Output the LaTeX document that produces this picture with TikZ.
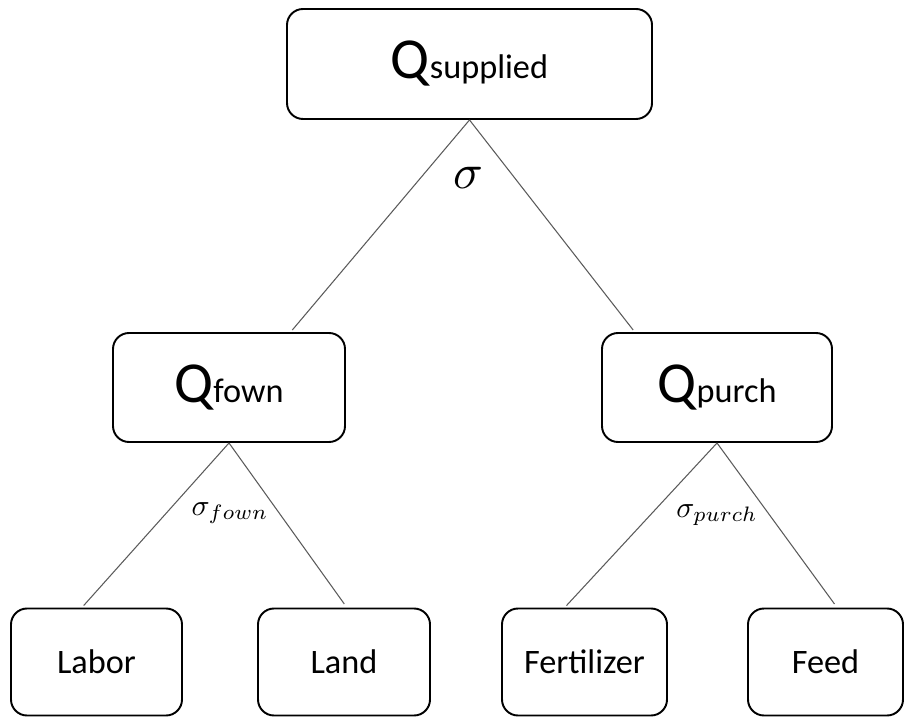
\documentclass[tikz,border=0pt]{standalone}
\usepackage{fontspec}
\setmainfont{Carlito}
\newcommand{\bigQ}{{\fontsize{33}{36}\selectfont Q}}
\definecolor{lineGray}{RGB}{90,90,90}

\begin{document}
\begin{tikzpicture}[%
    box/.style={
        draw,
        line width=1.1pt,
        rounded corners=0.32cm,
        font=\fontsize{19.5}{22}\selectfont,
    },
    branch/.style={lineGray, line width=0.6pt, shorten >=1.5pt},
]
\useasboundingbox (0,0) rectangle (18.1,14.34);

% place boxes
\node[box, minimum width=7.3cm, minimum height=2.2cm] (supplied) at (9.39,13.06) {\bigQ supplied};
\node[box, minimum width=4.64cm, minimum height=2.18cm] (fown) at (4.58,6.59) {\bigQ fown};
\node[box, minimum width=4.6cm, minimum height=2.18cm] (purch) at (14.34,6.59) {\bigQ purch};
\node[box, minimum width=3.42cm, minimum height=2.14cm] (labor) at (1.93,1.1) {Labor};
\node[box, minimum width=3.44cm, minimum height=2.14cm] (land) at (6.88,1.1) {Land};
\node[box, minimum width=3.3cm, minimum height=2.14cm] (fert) at (11.69,1.1) {Fertilizer};
\node[box, minimum width=3.1cm, minimum height=2.14cm] (feed) at (16.51,1.1) {Feed};

% place elasticity labels
\node[scale=2.8] (sig) at (9.36,10.78) {$\sigma$};
\node[scale=1.7] (sigfown) at (4.6,4.08) {$\sigma_{fown}$};
\node[scale=1.7] (sigpurch) at (14.34,4.04) {$\sigma_{purch}$};

% draw branches
\draw [branch] (supplied.south) -- (fown.42);
\draw [branch] (supplied.south) -- (purch.146);
\draw [branch] (fown.south) -- (labor.105);
\draw [branch, shorten >=2.5pt] (fown.south) -- (land.87);
\draw [branch] (purch.south) -- (fert.110);
\draw [branch, shorten >=2.5pt] (purch.south) -- (feed.78);

\end{tikzpicture}
\end{document}
